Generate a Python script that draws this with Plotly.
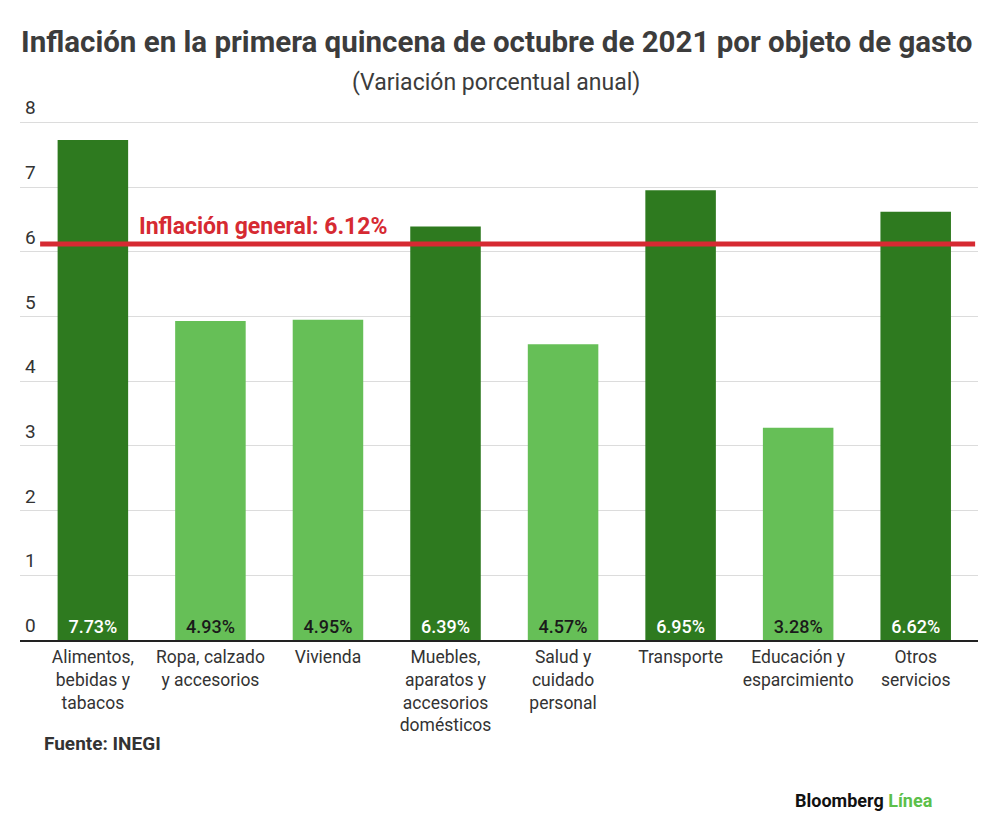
import plotly.graph_objects as go

# Datos
categorias = [
    'Alimentos,<br>bebidas y<br>tabacos',
    'Ropa, calzado<br>y accesorios',
    'Vivienda',
    'Muebles,<br>aparatos y<br>accesorios<br>domésticos',
    'Salud y<br>cuidado<br>personal',
    'Transporte',
    'Educación y<br>esparcimiento',
    'Otros<br>servicios',
]
valores = [7.73, 4.93, 4.95, 6.39, 4.57, 6.95, 3.28, 6.62]
inflacion_general = 6.12
y_ticks = [0, 1, 2, 3, 4, 5, 6, 7, 8]

OSCURO = '#2e7a1f'
CLARO = '#66bf57'
ROJO = '#d62a32'

colores = [OSCURO if v > inflacion_general else CLARO for v in valores]
colores_texto = ['white' if v > inflacion_general else '#1a1a1a' for v in valores]
x_pos = list(range(len(categorias)))

fig = go.Figure()

fig.add_trace(go.Bar(
    x=x_pos,
    y=valores,
    width=0.6,
    marker=dict(color=colores, line=dict(width=0)),
    text=[f'{v:.2f}%' for v in valores],
    textposition='inside',
    insidetextanchor='start',
    textangle=0,
    textfont=dict(family='Roboto', size=18, color=colores_texto, weight=500),
    hoverinfo='skip',
))

# Línea de inflación general
fig.add_shape(
    type='line', xref='paper', yref='y',
    x0=0.021, x1=0.997, y0=inflacion_general, y1=inflacion_general,
    line=dict(color=ROJO, width=5),
)

# el body del html deja ~8px de margen, por eso 992x819
fig.update_layout(
    width=992, height=819,
    paper_bgcolor='white', plot_bgcolor='white',
    margin=dict(l=12, r=22, t=95, b=187),
    showlegend=False,
    xaxis=dict(
        tickmode='array', tickvals=x_pos, ticktext=categorias,
        range=[-0.62, 7.53],
        showgrid=False, zeroline=False,
        showline=True, linecolor='#222222', linewidth=2,
        ticks='', tickfont=dict(family='Roboto', size=17.5, color='#333333'),
        fixedrange=True,
    ),
    yaxis=dict(
        range=[0, 8.3], tickvals=y_ticks,
        showgrid=True, gridcolor='#dcdcdc', gridwidth=1,
        zeroline=False, ticks='', showticklabels=False,
        fixedrange=True,
    ),
)

# etiquetas del eje y encima de cada línea de rejilla
for t in y_ticks:
    fig.add_annotation(
        x=0.003, xref='paper', y=t, yref='y',
        text=str(t), showarrow=False,
        xanchor='left', yanchor='bottom', yshift=1,
        font=dict(family='Roboto', size=19, color='#333333'),
    )

fig.add_annotation(
    x=0.497, xref='paper', y=1.1136, yref='paper',
    text='<b>Inflación en la primera quincena de octubre de 2021 por objeto de gasto</b>',
    showarrow=False, xanchor='center', yanchor='middle',
    font=dict(family='Roboto', size=29.5, color='#3c3c3c'),
)
fig.add_annotation(
    x=0.497, xref='paper', y=1.039, yref='paper',
    text='(Variación porcentual anual)',
    showarrow=False, xanchor='center', yanchor='middle',
    font=dict(family='Roboto', size=23, color='#3c3c3c'),
)
fig.add_annotation(
    x=0.122, xref='paper', y=inflacion_general, yref='y',
    text='<b>Inflación general: 6.12%</b>',
    showarrow=False, xanchor='left', yanchor='bottom', yshift=2,
    font=dict(family='Roboto', size=23, color=ROJO),
)
fig.add_annotation(
    x=0.023, xref='paper', y=-0.192, yref='paper',
    text='<b>Fuente: INEGI</b>', showarrow=False,
    xanchor='left', yanchor='middle',
    font=dict(family='Roboto', size=19, color='#333333'),
)
fig.add_annotation(
    x=0.807, xref='paper', y=-0.298, yref='paper',
    text='<b>Bloomberg</b> <b><span style="color:#5cbf4a">Línea</span></b>',
    showarrow=False, xanchor='left', yanchor='middle',
    font=dict(family='Roboto', size=18, color='#111111', weight=900),
)

fig.write_html('out.html', config={'displayModeBar': False})
